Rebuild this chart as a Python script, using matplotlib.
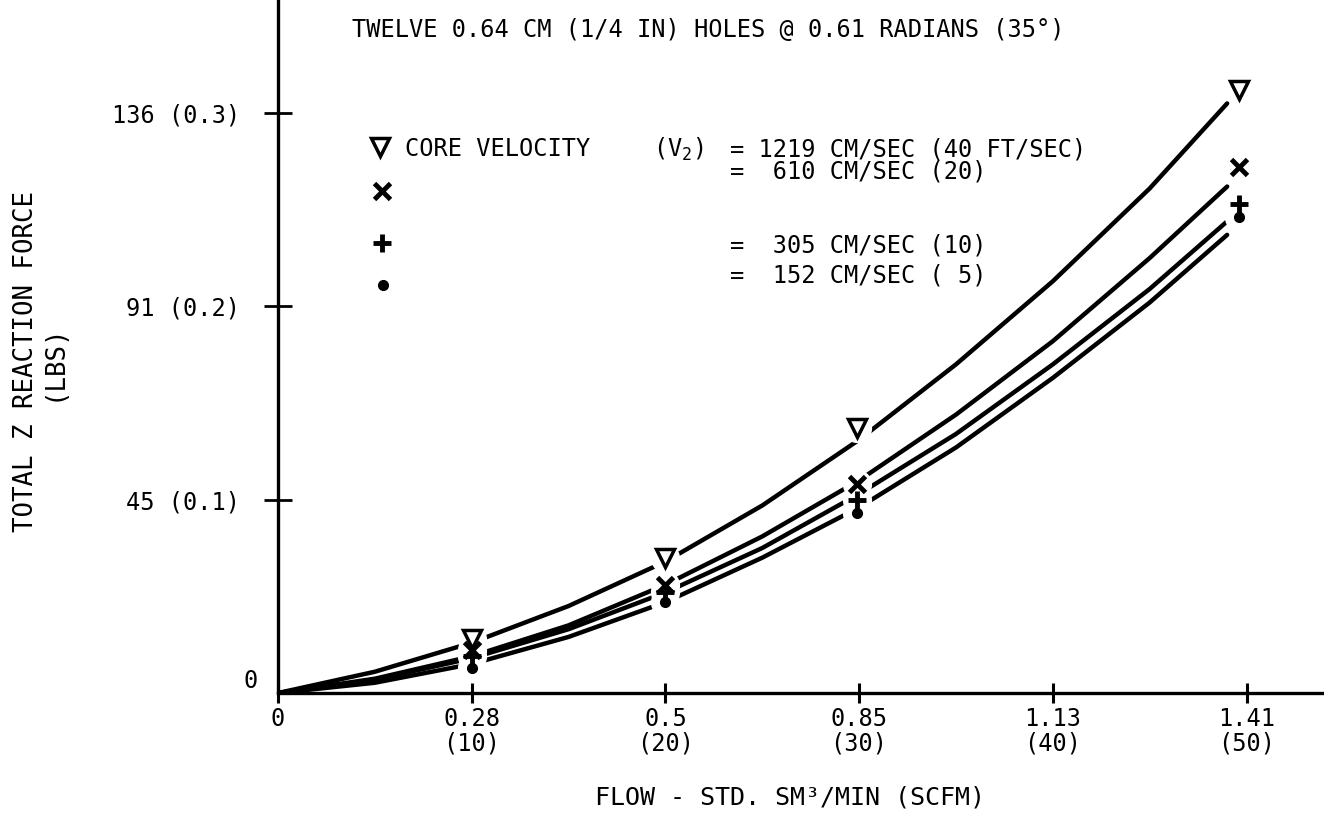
import matplotlib
matplotlib.use("Agg")
import matplotlib.pyplot as plt

plt.rcParams['font.family'] = ['DejaVu Sans Mono', 'DejaVu Sans']
plt.rcParams['mathtext.fontset'] = 'custom'
plt.rcParams['mathtext.rm'] = 'DejaVu Sans Mono'
plt.rcParams['mathtext.it'] = 'DejaVu Sans Mono'

# measured points (flow in SCFM, force in LBS)
flow_pts = [10, 20, 29.9, 49.6]
force_1219 = [0.028, 0.070, 0.137, 0.312]
force_610 = [0.022, 0.056, 0.108, 0.272]
force_305 = [0.019, 0.052, 0.100, 0.253]
force_152 = [0.013, 0.047, 0.093, 0.246]

# faired curves
curve_flow = [0, 5, 10, 15, 20, 25, 30, 35, 40, 45, 49]
curve_1219 = [0, 0.011, 0.026, 0.045, 0.068, 0.097, 0.131, 0.170, 0.213, 0.261, 0.305]
curve_610 = [0, 0.0074, 0.019, 0.035, 0.056, 0.081, 0.110, 0.144, 0.182, 0.225, 0.262]
curve_305 = [0, 0.0069, 0.018, 0.033, 0.052, 0.075, 0.103, 0.134, 0.170, 0.209, 0.244]
curve_152 = [0, 0.0053, 0.015, 0.029, 0.047, 0.070, 0.096, 0.127, 0.163, 0.202, 0.237]

xtick_vals = [0, 10, 20, 30, 40, 50]
xtick_labels = ["0", "0.28\n(10)", "0.5\n(20)", "0.85\n(30)", "1.13\n(40)", "1.41\n(50)"]
ytick_vals = [0.1, 0.2, 0.3]
ytick_labels = ["45 (0.1)", "91 (0.2)", "136 (0.3)"]

W, H = 1324, 833
fig = plt.figure(figsize=(W / 100, H / 100), dpi=100)
ax = fig.add_axes([278 / W, (H - 693) / H, (W - 278) / W, 693 / H])

def px(x, y):
    return x / W, 1 - y / H

fs = 17
ink = 'black'

for xs, ys in [(curve_flow, curve_1219), (curve_flow, curve_610),
               (curve_flow, curve_305), (curve_flow, curve_152)]:
    ax.plot(xs, ys, color=ink, lw=3.2, solid_capstyle='round', zorder=2)

series = [
    (force_1219, 'v', 13, 2.5, 'white'),
    (force_610, 'x', 12, 3.5, ink),
    (force_305, '+', 13, 3.5, ink),
    (force_152, 'o', 7, 1, ink),
]
for ys, m, ms, mew, fc in series:
    # white halo gives the broken-line look around each point
    ax.plot(flow_pts, ys, 'o', ms=20, color='white', zorder=3)
for ys, m, ms, mew, fc in series:
    ax.plot(flow_pts, ys, m, ms=ms, mew=mew, mec=ink, mfc=fc, zorder=4)

ax.set_xlim(0, 54)
ax.set_ylim(0, 0.3585)
for s in ['top', 'right']:
    ax.spines[s].set_visible(False)
for s in ['left', 'bottom']:
    ax.spines[s].set_linewidth(2.4)
    ax.spines[s].set_zorder(1)

ax.set_xticks(xtick_vals)
ax.set_xticklabels(xtick_labels, fontsize=fs, linespacing=1.05)
ax.set_yticks(ytick_vals)
ax.set_yticklabels(ytick_labels, fontsize=fs)
ax.tick_params(axis='y', direction='inout', length=20, width=2, pad=17)
ax.tick_params(axis='x', direction='inout', length=14, width=2.2, pad=3)

fig.text(*px(258, 681), "0", fontsize=fs, ha='right', va='center')

fig.text(*px(352, 30), "TWELVE 0.64 CM (1/4 IN) HOLES @ 0.61 RADIANS (35°)",
         fontsize=17, ha='left', va='center')

fig.text(*px(40, 362), "TOTAL Z REACTION FORCE\n(LBS)", fontsize=18.5,
         rotation=90, ha='center', va='center', multialignment='center',
         linespacing=1.1)
fig.text(*px(790, 798), "FLOW - STD. SM³/MIN (SCFM)", fontsize=18,
         ha='center', va='center')

# legend block
leg_marks = [((380, 147), 'v', 13, 2.5, 'white'),
             ((382, 191), 'x', 12, 3.5, ink),
             ((382, 243), '+', 13, 3.5, ink),
             ((383, 285), 'o', 7, 1, ink)]
for (lx, ly), m, ms, mew, fc in leg_marks:
    fx, fy = px(lx, ly)
    ax.plot([fx], [fy], m, ms=ms, mew=mew, mec=ink, mfc=fc,
            transform=fig.transFigure, clip_on=False, zorder=5)

fig.text(*px(405, 149), "CORE VELOCITY", fontsize=fs, ha='left', va='center')
fig.text(*px(653, 149), r"($\mathrm{V}_2$)", fontsize=fs, ha='left', va='center')
fig.text(*px(730, 149), "= 1219 CM/SEC (40 FT/SEC)", fontsize=fs, ha='left', va='center')
fig.text(*px(730, 171), "=  610 CM/SEC (20)", fontsize=fs, ha='left', va='center')
fig.text(*px(730, 245), "=  305 CM/SEC (10)", fontsize=fs, ha='left', va='center')
fig.text(*px(730, 276), "=  152 CM/SEC ( 5)", fontsize=fs, ha='left', va='center')

fig.savefig("out.png", dpi=100)
